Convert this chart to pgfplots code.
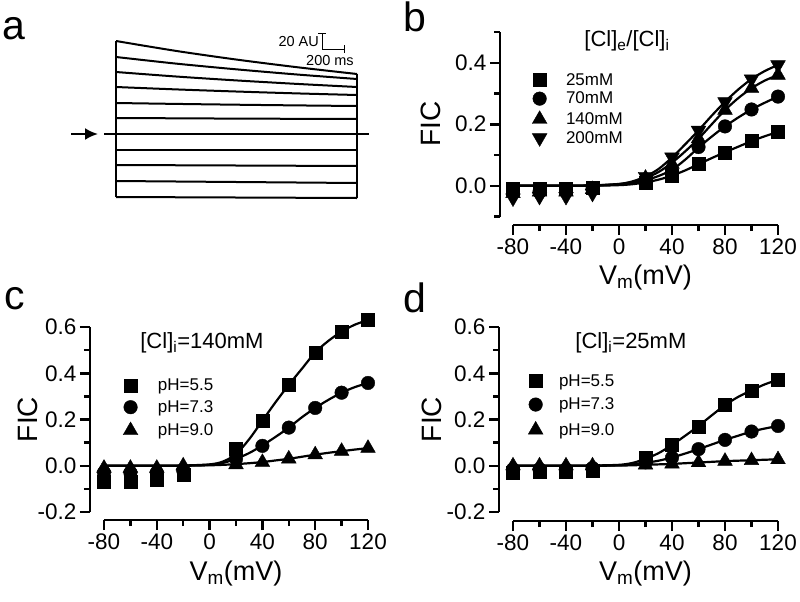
\documentclass[border=0pt]{standalone}
\usepackage{fontspec}
\setmainfont{Liberation Sans}
\usepackage{pgfplots}
\pgfplotsset{compat=1.18}
\usetikzlibrary{arrows.meta}

\pgfplotsset{
  orig/.style={
    scale only axis, clip=false, enlargelimits=false,
    axis lines*=left,
    axis line style={line width=2.5pt},
    tick style={line width=2.5pt, black},
    tick align=outside,
    major tick length=10pt, minor tick length=6pt,
    xmin=-80, xmax=120, xtick={-80,-40,0,40,80,120}, minor xtick={-60,-20,20,60,100},
    /pgf/number format/assume math mode=true,
    ticklabel style={font=\fontsize{22.5}{22.5}\selectfont},
    yticklabel style={/pgf/number format/.cd, fixed, fixed zerofill, precision=1},
    xlabel={V\textsubscript{m}(mV)},
    ylabel={FIC},
    xlabel style={at={(axis description cs:0.5,-0.37)}, anchor=base, font=\fontsize{27}{27}\selectfont},
    legend cell align=left,
    legend image code/.code={\draw[mark repeat=2, mark phase=2, ##1] plot coordinates {(-7pt,0pt)(0pt,0pt)(7pt,0pt)};},
    legend style={draw=none, fill=none, inner sep=0pt, font=\fontsize{17}{17}\selectfont, nodes={inner sep=0pt}},
  },
  fitc/.style={line width=2.2pt, black, smooth, mark=none, forget plot},
  mk/.style={only marks, black, mark options={fill=black, draw=black, line width=0.4pt}},
  sq/.style={mk, mark=square*, mark size=6.5pt},
  ci/.style={mk, mark=*, mark size=6.8pt},
  tu/.style={mk, mark=triangle*, mark size=8.5pt},
  td/.style={mk, mark=triangle*, mark size=8.5pt, mark options={rotate=180}},
  tr/.style={line width=2pt, black, smooth, mark=none},
  fic/.style={ylabel style={at={(axis description cs:#1,0.5)}, anchor=base, font=\fontsize{28}{28}\selectfont}},
}

\begin{document}
\begin{tikzpicture}
\useasboundingbox (0,0) rectangle (800pt,-602pt);

% panel letters
\node[anchor=base west, font=\fontsize{41}{41}\selectfont, inner sep=0pt] at (2pt,-40pt) {a};
\node[anchor=base west, font=\fontsize{41}{41}\selectfont, inner sep=0pt] at (403pt,-32pt) {b};
\node[anchor=base west, font=\fontsize{41}{41}\selectfont, inner sep=0pt] at (4pt,-309pt) {c};
\node[anchor=base west, font=\fontsize{41}{41}\selectfont, inner sep=0pt] at (403pt,-312pt) {d};

% ---------------- panel a ----------------
\begin{axis}[at={(60pt,-210pt)}, anchor=south west, scale only axis,
  width=320pt, height=190pt, xmin=60, xmax=380, ymin=20, ymax=210,
  y dir=reverse, hide axis, clip=false]
\addplot[tr] coordinates {(116,41)(176,50.9)(236,59.5)(297,67.2)(357,74)};
\addplot[tr] coordinates {(116,57)(176,63.6)(236,69.3)(297,74.5)(357,79)};
\addplot[tr] coordinates {(116,72)(176,76.5)(236,80.4)(297,83.9)(357,87)};
\addplot[tr] coordinates {(116,87)(176,89.4)(236,91.5)(297,93.4)(357,95)};
\addplot[tr] coordinates {(116,103)(176,103.9)(236,104.7)(297,105.4)(357,106)};
\addplot[tr] coordinates {(116,118)(176,118.3)(236,118.6)(297,118.8)(357,119)};
\addplot[tr] coordinates {(104,134)(369,134)};
\addplot[tr] coordinates {(116,150)(357,150)};
\addplot[tr] coordinates {(116,165)(357,166)};
\addplot[tr] coordinates {(116,181)(357,183)};
\addplot[tr] coordinates {(116,197)(357,198)};
\addplot[tr] coordinates {(116,41)(116,197)};
\addplot[tr] coordinates {(357,74)(357,198)};
\addplot[line width=2.2pt, black, mark=none, -{Latex[length=13pt,width=12pt]}] coordinates {(71,134)(98,134)};
\addplot[line width=1pt, black, mark=none] coordinates {(318,33)(326,33)};
\addplot[line width=1pt, black, mark=none] coordinates {(322,33)(322,49)};
\addplot[line width=1pt, black, mark=none] coordinates {(322,49)(344,49)};
\addplot[line width=1pt, black, mark=none] coordinates {(344,45)(344,53)};
\node[anchor=east, font=\fontsize{14.5}{14.5}\selectfont, inner sep=0pt] at (axis cs:319,42) {20 AU};
\node[anchor=west, font=\fontsize{14.5}{14.5}\selectfont, inner sep=0pt] at (axis cs:306,61) {200 ms};
\end{axis}

% ---------------- panel b ----------------
\begin{axis}[orig, fic=-0.275, at={(513pt,-216.5pt)}, anchor=south west,
  width=265pt, height=184.5pt, ymin=-0.1, ymax=0.5,
  ytick={0,0.2,0.4}, minor ytick={-0.1,0.1,0.3,0.5},
  axis x line shift=8.5pt, axis y line shift=13pt,
  legend style={at={(axis description cs:0.072,0.778)}, anchor=north west, row sep=5.3pt, column sep=19pt}]
\addplot[fitc] coordinates {(-80,0)(-60,0)(-40,0)(-20,0)(0,0.002)(10,0.005)(20,0.011)(30,0.02)(40,0.033)(50,0.05)(60,0.07)(70,0.09)(80,0.109)(90,0.127)(100,0.145)(110,0.161)(120,0.175)};
\addplot[fitc] coordinates {(-80,0)(-60,0)(-40,0)(-20,0.001)(0,0.004)(10,0.009)(20,0.018)(30,0.032)(40,0.052)(50,0.085)(60,0.124)(70,0.16)(80,0.193)(90,0.222)(100,0.248)(110,0.27)(120,0.29)};
\addplot[fitc] coordinates {(-80,0)(-60,0)(-40,0)(-20,0.001)(0,0.005)(10,0.012)(20,0.025)(30,0.045)(40,0.075)(50,0.112)(60,0.153)(70,0.2)(80,0.246)(90,0.285)(100,0.317)(110,0.342)(120,0.36)};
\addplot[fitc] coordinates {(-80,0)(-60,0)(-40,0)(-20,0.001)(0,0.006)(10,0.014)(20,0.03)(30,0.055)(40,0.092)(50,0.135)(60,0.18)(70,0.228)(80,0.273)(90,0.313)(100,0.347)(110,0.373)(120,0.393)};
\addplot[sq] coordinates {(-80,-0.01)(-60,-0.01)(-40,-0.01)(-20,-0.005)(20,0.01)(40,0.033)(60,0.071)(80,0.109)(100,0.145)(120,0.175)};
\addplot[ci] coordinates {(-80,-0.02)(-60,-0.02)(-40,-0.015)(-20,-0.01)(20,0.015)(40,0.05)(60,0.126)(80,0.193)(100,0.248)(120,0.29)};
\addplot[tu] coordinates {(-80,-0.025)(-60,-0.02)(-40,-0.02)(-20,-0.012)(20,0.025)(40,0.07)(60,0.153)(80,0.246)(100,0.317)(120,0.36)};
\addplot[td] coordinates {(-80,-0.04)(-60,-0.035)(-40,-0.035)(-20,-0.025)(20,0.03)(40,0.093)(60,0.18)(80,0.273)(100,0.347)(120,0.393)};
\legend{25mM,70mM,140mM,200mM}
\node[anchor=base, font=\fontsize{22}{22}\selectfont, inner sep=0pt] at (axis description cs:0.43,0.919) {[Cl]\textsubscript{e}/[Cl]\textsubscript{i}};
\end{axis}

% ---------------- panel c ----------------
\begin{axis}[orig, fic=-0.25, at={(104pt,-512pt)}, anchor=south west,
  width=264pt, height=185pt, ymin=-0.2, ymax=0.6,
  ytick={-0.2,0,0.2,0.4,0.6}, minor ytick={-0.1,0.1,0.3,0.5},
  axis x line shift=8pt, axis y line shift=14pt,
  legend style={at={(axis description cs:0.072,0.719)}, anchor=north west, row sep=8pt, column sep=20pt}]
\addplot[fitc] coordinates {(-80,0)(-60,0)(-40,0)(-20,0.001)(0,0.006)(10,0.018)(20,0.05)(30,0.115)(40,0.195)(50,0.275)(60,0.35)(70,0.42)(80,0.49)(90,0.54)(100,0.58)(110,0.61)(120,0.63)};
\addplot[fitc] coordinates {(-80,0)(-60,0)(-40,0)(-20,0.001)(0,0.004)(10,0.012)(20,0.03)(30,0.055)(40,0.088)(50,0.125)(60,0.165)(70,0.21)(80,0.25)(90,0.285)(100,0.316)(110,0.34)(120,0.358)};
\addplot[fitc] coordinates {(-80,0)(-60,0)(-40,0)(-20,0)(0,0.002)(10,0.004)(20,0.007)(30,0.011)(40,0.016)(50,0.023)(60,0.03)(70,0.039)(80,0.048)(90,0.056)(100,0.063)(110,0.07)(120,0.076)};
\addplot[sq] coordinates {(-80,-0.07)(-60,-0.07)(-40,-0.06)(-20,-0.04)(20,0.073)(40,0.195)(60,0.35)(80,0.49)(100,0.58)(120,0.63)};
\addplot[ci] coordinates {(-80,-0.03)(-60,-0.03)(-40,-0.03)(-20,-0.02)(20,0.03)(40,0.086)(60,0.165)(80,0.25)(100,0.316)(120,0.358)};
\addplot[tu] coordinates {(-80,-0.01)(-60,-0.01)(-40,-0.01)(-20,0.0)(20,0.005)(40,0.015)(60,0.03)(80,0.048)(100,0.063)(120,0.076)};
\legend{pH=5.5,pH=7.3,pH=9.0}
\node[anchor=base, font=\fontsize{22}{22}\selectfont, inner sep=0pt] at (axis description cs:0.371,0.886) {[Cl]\textsubscript{i}=140mM};
\end{axis}

% ---------------- panel d ----------------
\begin{axis}[orig, fic=-0.268, at={(513pt,-512pt)}, anchor=south west,
  width=265pt, height=185pt, ymin=-0.2, ymax=0.6,
  ytick={-0.2,0,0.2,0.4,0.6}, minor ytick={-0.1,0.1,0.3,0.5},
  axis x line shift=9pt, axis y line shift=14pt,
  legend style={at={(axis description cs:0.057,0.744)}, anchor=north west, row sep=10pt, column sep=16pt}]
\addplot[fitc] coordinates {(-80,0)(-60,0)(-40,0)(-20,0.001)(0,0.004)(10,0.012)(20,0.03)(30,0.055)(40,0.09)(50,0.13)(60,0.172)(70,0.218)(80,0.262)(90,0.298)(100,0.326)(110,0.352)(120,0.372)};
\addplot[fitc] coordinates {(-80,0)(-60,0)(-40,0)(-20,0)(0,0.002)(10,0.006)(20,0.013)(30,0.022)(40,0.036)(50,0.053)(60,0.072)(70,0.092)(80,0.112)(90,0.13)(100,0.148)(110,0.161)(120,0.172)};
\addplot[fitc] coordinates {(-80,0)(-60,0)(-40,0)(-20,0)(0,0.001)(10,0.002)(20,0.004)(30,0.006)(40,0.008)(50,0.011)(60,0.014)(70,0.017)(80,0.02)(90,0.022)(100,0.024)(110,0.026)(120,0.028)};
\addplot[sq] coordinates {(-80,-0.03)(-60,-0.025)(-40,-0.025)(-20,-0.02)(20,0.035)(40,0.092)(60,0.17)(80,0.262)(100,0.326)(120,0.372)};
\addplot[ci] coordinates {(-80,-0.015)(-60,-0.015)(-40,-0.015)(-20,-0.01)(20,0.015)(40,0.035)(60,0.072)(80,0.112)(100,0.148)(120,0.172)};
\addplot[tu] coordinates {(-80,0.0)(-60,0.0)(-40,0.0)(-20,0.0)(20,0.004)(40,0.008)(60,0.014)(80,0.02)(100,0.023)(120,0.027)};
\legend{pH=5.5,pH=7.3,pH=9.0}
\node[anchor=base, font=\fontsize{22}{22}\selectfont, inner sep=0pt] at (axis description cs:0.445,0.886) {[Cl]\textsubscript{i}=25mM};
\end{axis}
\end{tikzpicture}
\end{document}
